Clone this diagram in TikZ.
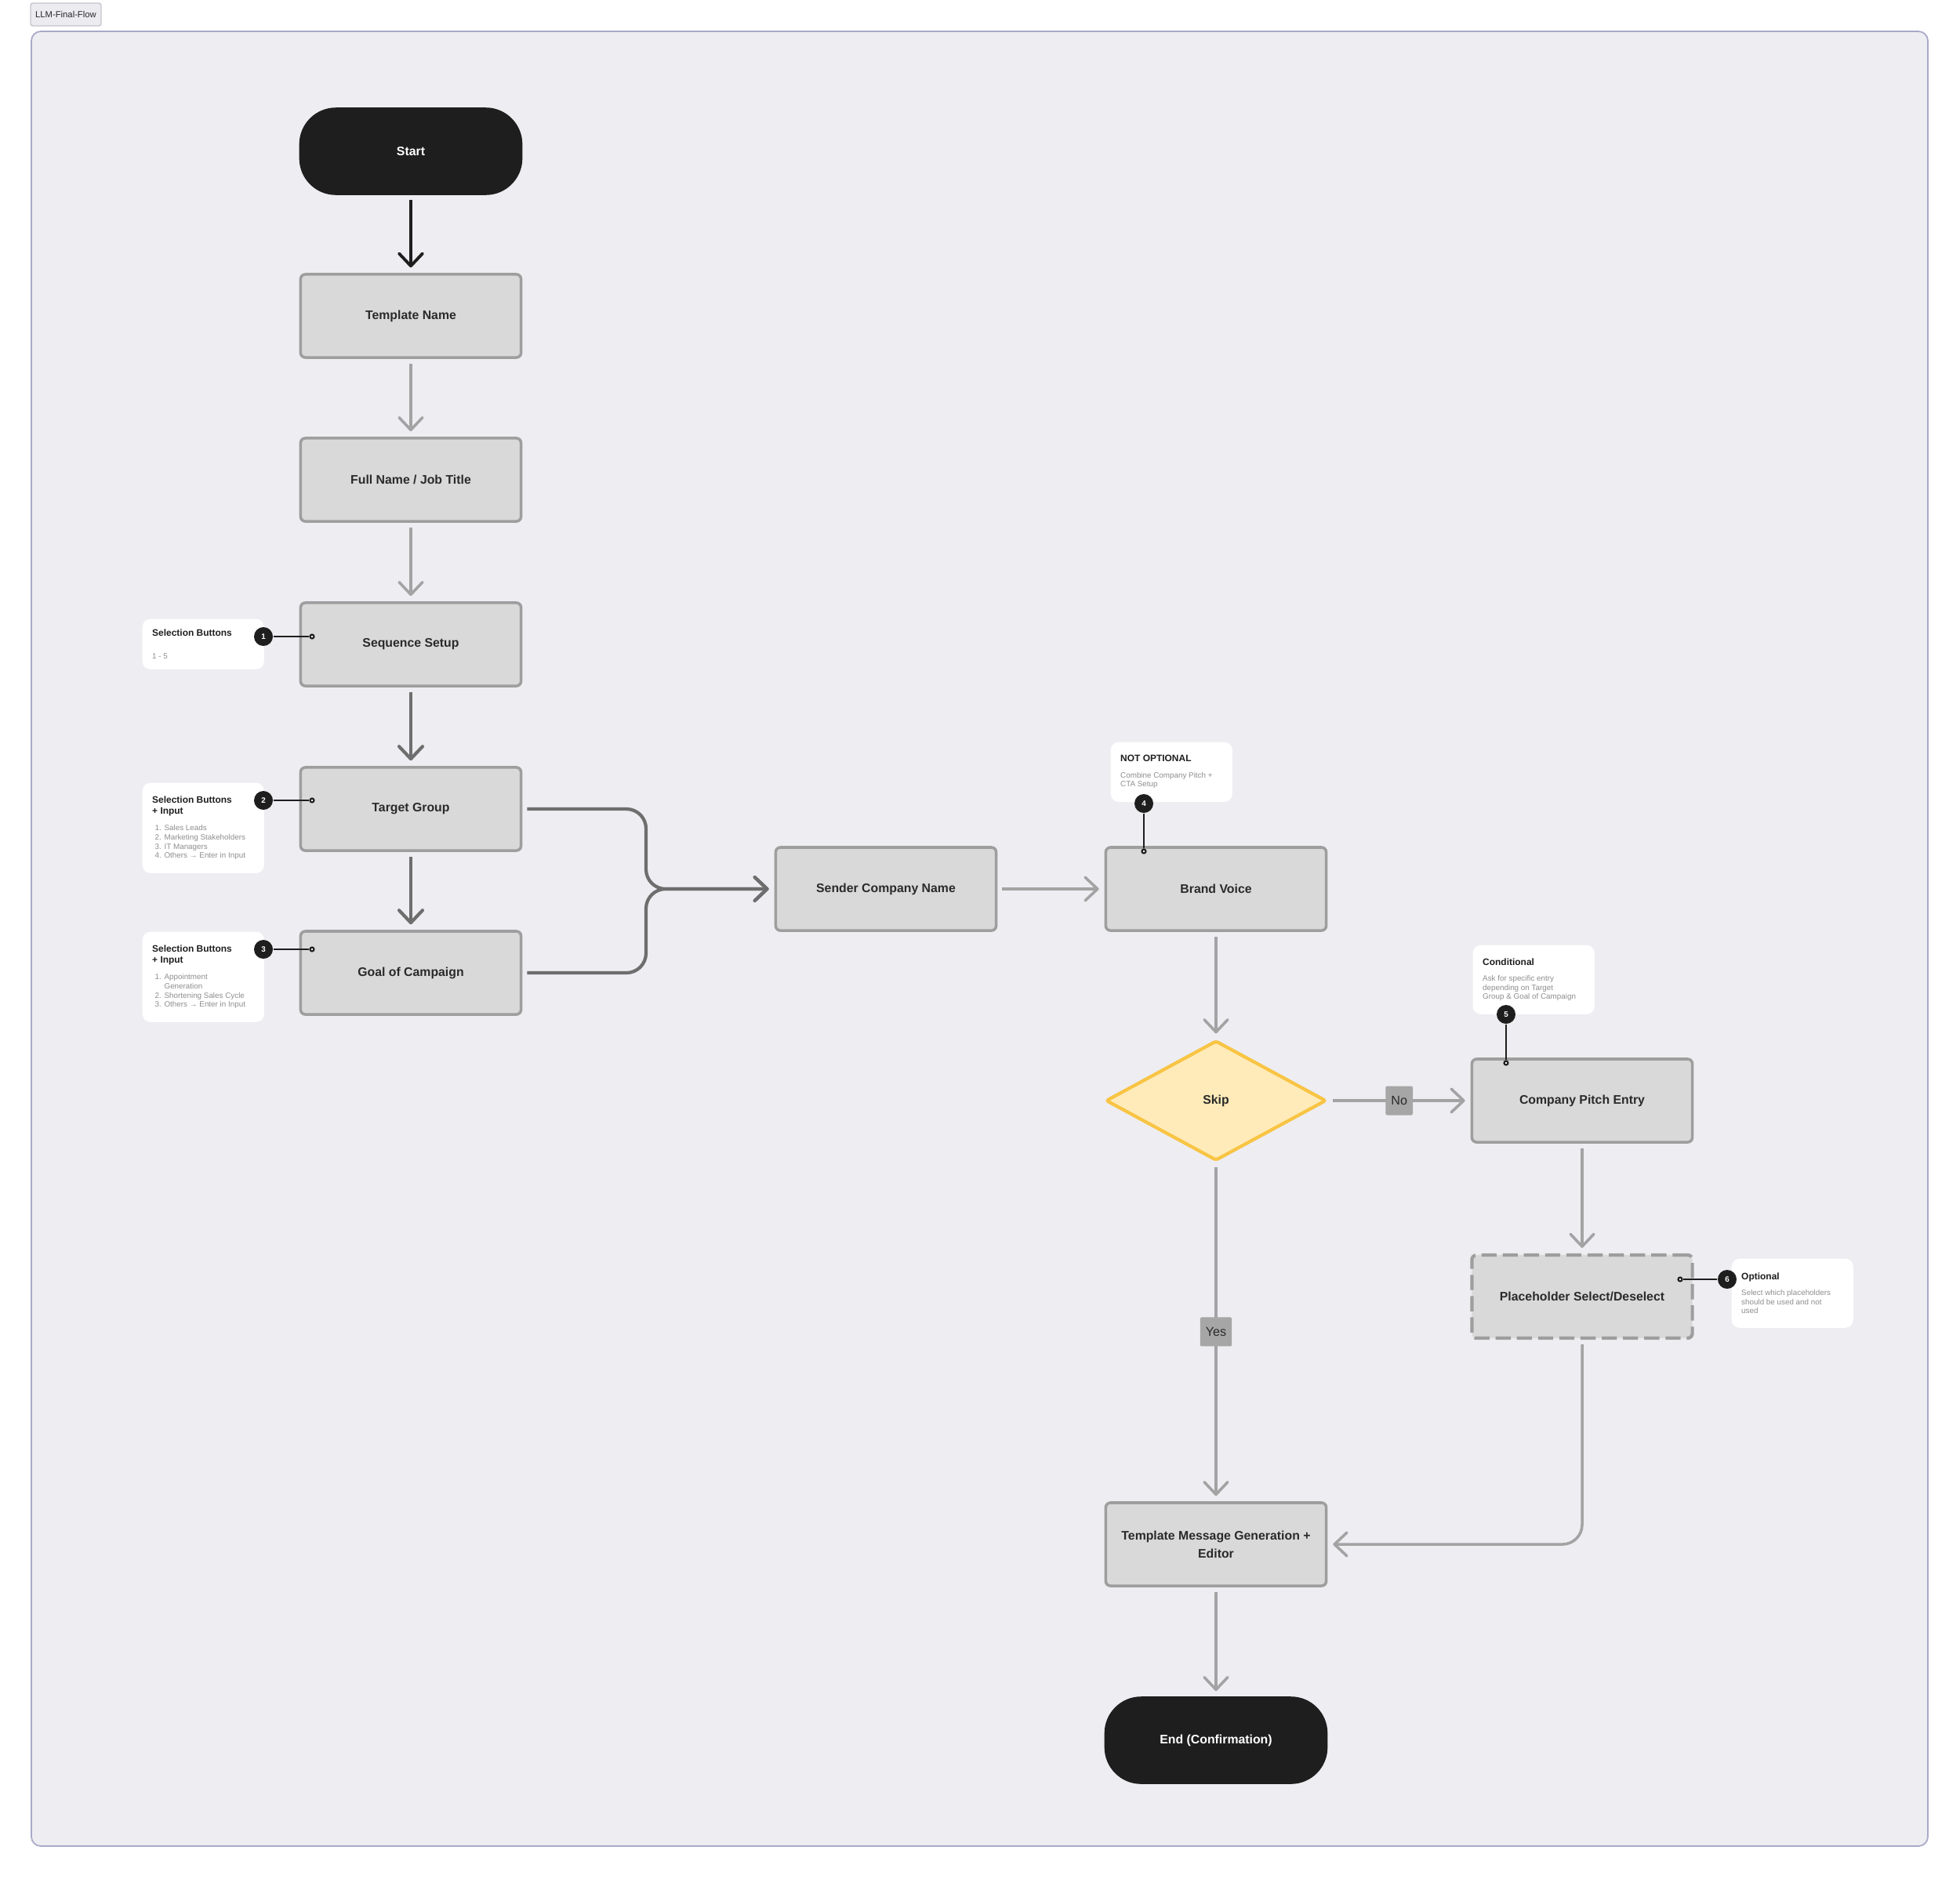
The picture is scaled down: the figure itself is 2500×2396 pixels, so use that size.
\documentclass[tikz,border=0pt]{standalone}
\usepackage{fontspec}
\setmainfont{Liberation Sans}
\usetikzlibrary{arrows.meta,shapes.geometric}

\definecolor{framebg}{HTML}{EDEDF2}
\definecolor{frameline}{HTML}{A9A9C8}
\definecolor{boxfill}{HTML}{D9D9D9}
\definecolor{boxline}{HTML}{9E9E9E}
\definecolor{inkblack}{HTML}{1E1E1E}
\definecolor{inkdark}{HTML}{2A2A2A}
\definecolor{notegray}{HTML}{8E8E8E}
\definecolor{lightline}{HTML}{A3A3A3}
\definecolor{darkline}{HTML}{6E6E6E}
\definecolor{skipfill}{HTML}{FFEBB9}
\definecolor{skipline}{HTML}{F8C443}
\definecolor{labelfill}{HTML}{A6A6A6}
\definecolor{tagfill}{HTML}{EBEBF0}
\definecolor{tagline}{HTML}{C6C6CE}

\newcommand\notehead{\fontsize{3.4}{4}\selectfont\bfseries\color{inkblack}}
\newcommand\notebody{\fontsize{2.8}{3.3}\selectfont\mdseries\color{notegray}}
\newcommand\notetext[1]{\parbox{1.3cm}{\raggedright #1}}

\tikzset{
  flowbox/.style={draw=boxline, fill=boxfill, line width=1pt, rounded corners=0.06cm,
    minimum width=2.81cm, minimum height=1.06cm, text=inkdark, align=center,
    font=\fontsize{4.5}{6.5}\selectfont\bfseries},
  darkbox/.style={flowbox, draw=inkblack, fill=inkblack, text=white, rounded corners=0.45cm,
    minimum height=1.08cm},
  holderbox/.style={flowbox, line width=1.2pt, dash pattern=on 5.5pt off 2.2pt},
  decision/.style={flowbox, diamond, draw=skipline, fill=skipfill, line width=1.2pt,
    rounded corners=0.03cm, minimum width=2.81cm, minimum height=1.53cm},
  notebox/.style={fill=white, rounded corners=0.1cm, anchor=north west,
    inner xsep=0.125cm, inner ysep=0pt, minimum width=1.55cm},
  badge/.style={circle, fill=inkblack, text=white, inner sep=0pt, minimum size=0.24cm,
    font=\fontsize{2.8}{3}\selectfont\bfseries},
  pindot/.style={circle, draw=inkblack, fill=white, line width=0.6pt, inner sep=0pt,
    minimum size=0.05cm},
  pinline/.style={draw=inkblack, line width=0.5pt},
  choice/.style={fill=labelfill, text=inkdark, rounded corners=0.02cm, inner xsep=0.07cm,
    inner ysep=0pt, minimum height=0.37cm, font=\fontsize{4.6}{5}\selectfont},
  titletag/.style={draw=tagline, fill=tagfill, line width=0.4pt, rounded corners=0.03cm,
    minimum width=0.9cm, minimum height=0.29cm, inner sep=0pt, text=inkdark,
    font=\fontsize{3.2}{4}\selectfont},
  flow/.style={line width=1pt, shorten <=1.7pt, shorten >=2pt,
    -{Straight Barb[length=4.5pt, width=8.5pt, round]}},
  lightflow/.style={flow, draw=lightline},
  darkflow/.style={flow, draw=darkline, line width=1.2pt},
  blackflow/.style={flow, draw=inkblack, line width=1.1pt}
}

\begin{document}
\begin{tikzpicture}[x=0.01cm, y=-0.01cm]
  %%%%% FRAME %%%%%
  \path[use as bounding box, fill=white] (0,0) rectangle (2500,2396);
  \draw[fill=framebg, draw=frameline, line width=0.5pt, rounded corners=0.12cm] (40,40) rectangle (2459,2355);
  \node[titletag] (tag) at (84,18.5) {LLM-Final-Flow};

  %%%%% FLOW %%%%%
  \node[darkbox] (start) at (524,193) {Start};
  \node[flowbox] (tname) at (524,403) {Template Name};
  \node[flowbox] (fname) at (524,612) {Full Name / Job Title};
  \node[flowbox] (seqsetup) at (524,822) {Sequence Setup};
  \node[flowbox] (tgroup) at (524,1032) {Target Group};
  \node[flowbox] (goal) at (524,1241) {Goal of Campaign};

  \node[flowbox] (sender) at (1130,1134) {Sender Company Name};
  \node[flowbox] (brand) at (1551,1134) {Brand Voice};
  \node[decision] (skip) at (1551,1404) {Skip};
  \node[flowbox] (pitch) at (2018,1404) {Company Pitch Entry};
  \node[holderbox] (holder) at (2018,1654) {Placeholder Select/Deselect};
  \node[flowbox] (tmsg) at (1551,1970) {Template Message Generation +\\Editor};
  \node[darkbox] (finish) at (1551,2220) {End (Confirmation)};

  %%%%% NOTES %%%%%
  \node[notebox, minimum height=0.64cm] (n1) at (181,789)
    {\notetext{\notehead Selection Buttons\par\vspace{5pt}\notebody 1 - 5}};
  \node[notebox, minimum height=1.15cm] (n2) at (181,998)
    {\notetext{\notehead Selection Buttons\\+ Input\par\vspace{2.8pt}\notebody
     \hspace*{1pt}1. Sales Leads\\\hspace*{1pt}2. Marketing Stakeholders\\\hspace*{1pt}3. IT Managers\\\hspace*{1pt}4. Others → Enter in Input}};
  \node[notebox, minimum height=1.15cm] (n3) at (181,1188)
    {\notetext{\notehead Selection Buttons\\+ Input\par\vspace{2.8pt}\notebody
     \hspace*{1pt}1. Appointment\\\hspace*{1pt}\phantom{1. }Generation\\\hspace*{1pt}2. Shortening Sales Cycle\\\hspace*{1pt}3. Others → Enter in Input}};
  \node[notebox, minimum height=0.76cm] (n4) at (1416,946)
    {\notetext{\notehead NOT OPTIONAL\par\vspace{2.5pt}\notebody Combine Company Pitch +\\CTA Setup}};
  \node[notebox, minimum height=0.88cm] (n5) at (1878,1205)
    {\notetext{\notehead Conditional\par\vspace{2.5pt}\notebody Ask for specific entry\\depending on Target\\Group \& Goal of Campaign}};
  \node[notebox, minimum height=0.88cm] (n6) at (2208,1605)
    {\notetext{\notehead Optional\par\vspace{2.5pt}\notebody Select which placeholders\\should be used and not\\used}};

  \node[badge] (b1) at (336,812) {1};
  \node[badge] (b2) at (336,1021) {2};
  \node[badge] (b3) at (336,1211) {3};
  \node[badge] (b4) at (1459,1025) {4};
  \node[badge] (b5) at (1921,1294) {5};
  \node[badge] (b6) at (2203,1632) {6};

  \node[pindot] (d1) at (398,812) {};
  \node[pindot] (d2) at (398,1021) {};
  \node[pindot] (d3) at (398,1211) {};
  \node[pindot] (d4) at (1459,1086) {};
  \node[pindot] (d5) at (1921,1356) {};
  \node[pindot] (d6) at (2143,1632) {};

  \draw[pinline] (b1) -- (d1);
  \draw[pinline] (b2) -- (d2);
  \draw[pinline] (b3) -- (d3);
  \draw[pinline] (b4) -- (d4);
  \draw[pinline] (b5) -- (d5);
  \draw[pinline] (b6) -- (d6);

  %%%%% CONNECTORS %%%%%
  \draw[blackflow] (start) -- (tname);
  \draw[lightflow] (tname) -- (fname);
  \draw[lightflow] (fname) -- (seqsetup);
  \draw[darkflow] (seqsetup) -- (tgroup);
  \draw[darkflow] (tgroup) -- (goal);

  \coordinate (merge) at (824,1134);
  \draw[darkflow, rounded corners=0.25cm] (tgroup.east) -| (merge) -- (sender.west);
  \draw[darkflow, rounded corners=0.25cm] (goal.east) -| (merge) -- (sender.west);

  \draw[lightflow] (sender) -- (brand);
  \draw[lightflow] (brand) -- (skip);
  \draw[lightflow] (skip) -- node[choice] (nolbl) {No} (pitch);
  \draw[lightflow] (skip) -- node[choice] (yeslbl) {Yes} (tmsg);
  \draw[lightflow] (pitch) -- (holder);
  \draw[lightflow, rounded corners=0.25cm] (holder.south) |- (tmsg.east);
  \draw[lightflow] (tmsg) -- (finish);
\end{tikzpicture}
\end{document}
